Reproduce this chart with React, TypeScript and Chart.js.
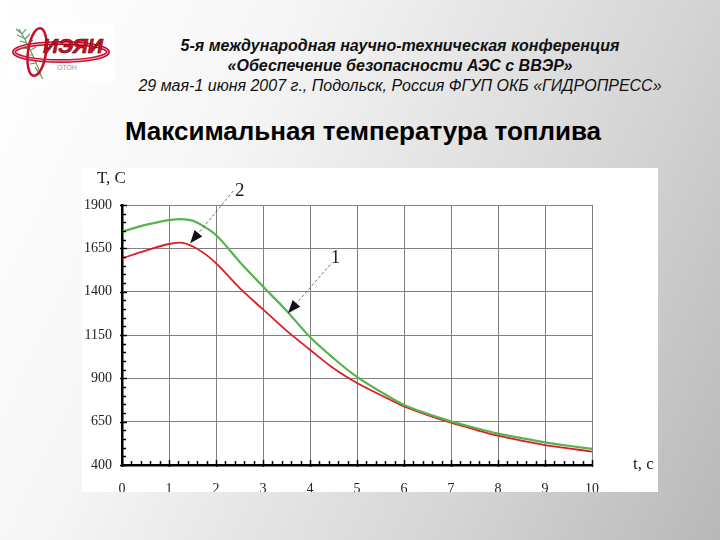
import React, { useEffect, useRef } from "react";
import { Chart, registerables } from "chart.js";

Chart.register(...registerables);

// time, s
const timeS = [0, 0.5, 1, 1.25, 1.5, 1.75, 2, 2.5, 3, 3.5, 4, 4.5, 5, 5.5, 6, 6.5, 7, 7.5, 8, 8.5, 9, 9.5, 10];
// curve 1 (green), T, C
const curve1 = [1746, 1785, 1813, 1819, 1810, 1775, 1727, 1573, 1430, 1290, 1138, 1016, 908, 823, 746, 695, 652, 615, 581, 555, 531, 511, 493];
// curve 2 (red), T, C
const curve2 = [1592, 1637, 1675, 1683, 1662, 1621, 1565, 1422, 1298, 1175, 1065, 958, 873, 804, 738, 688, 644, 605, 569, 540, 515, 496, 477];

const yMin = 400;
const yMax = 1900;
const yStep = 250;
const xMin = 0;
const xMax = 10;
const xStep = 1;

const yTitle = "T, C";
const xTitle = "t, c";

// callouts in data units: label position, leader start, arrow tip
const callouts = [
  { label: "2", lx: 2.505, ly: 1981, fx: 2.37, fy: 1982, tx: 1.45, ty: 1679 },
  { label: "1", lx: 4.54, ly: 1597, fx: 4.43, fy: 1556, tx: 3.53, ty: 1276 },
];

const headerLines = [
  "5-я международная научно-техническая конференция",
  "«Обеспечение безопасности АЭС с ВВЭР»",
  "29 мая-1 июня 2007 г., Подольск, Россия ФГУП ОКБ «ГИДРОПРЕСС»",
];
const slideTitle = "Максимальная температура топлива";
const logoText = "ИЭЯИ";
const logoSub = "ОТОН";

const SERIF = "'Liberation Serif', 'DejaVu Serif', serif";

const decorPlugin = {
  id: "decor",
  afterDraw(chart: any) {
    const { ctx, chartArea, scales } = chart;
    const xs = scales.x;
    const ys = scales.y;
    ctx.save();
    // minor ticks
    ctx.strokeStyle = "#000";
    ctx.lineWidth = 1.5;
    for (let v = xMin; v <= xMax + 1e-9; v += xStep / 5) {
      const px = Math.round(xs.getPixelForValue(v)) + 0.5;
      const major = Math.abs(v - Math.round(v)) < 1e-6;
      ctx.beginPath();
      ctx.moveTo(px, chartArea.bottom + (major ? 2 : 0));
      ctx.lineTo(px, chartArea.bottom - (major ? 5 : 4));
      ctx.stroke();
    }
    for (let v = yMin; v <= yMax + 1e-9; v += yStep / 5) {
      const py = Math.round(ys.getPixelForValue(v)) + 0.5;
      const major = Math.abs((v - yMin) % yStep) < 1e-6;
      ctx.beginPath();
      ctx.moveTo(chartArea.left - (major ? 2 : 0), py);
      ctx.lineTo(chartArea.left + (major ? 5 : 4), py);
      ctx.stroke();
    }
    // axis titles
    ctx.fillStyle = "#222";
    ctx.font = `17px ${SERIF}`;
    ctx.textAlign = "left";
    ctx.textBaseline = "alphabetic";
    ctx.fillText(yTitle, chartArea.left - 25, chartArea.top - 22);
    ctx.fillText(xTitle, chartArea.right + 41, chartArea.bottom + 4);
    // callouts
    for (const c of callouts) {
      const lx = xs.getPixelForValue(c.lx);
      const ly = ys.getPixelForValue(c.ly);
      const fx = xs.getPixelForValue(c.fx);
      const fy = ys.getPixelForValue(c.fy);
      const tx = xs.getPixelForValue(c.tx);
      const ty = ys.getPixelForValue(c.ty);
      ctx.font = `19px ${SERIF}`;
      ctx.textAlign = "center";
      ctx.textBaseline = "middle";
      ctx.fillStyle = "#222";
      ctx.fillText(c.label, lx, ly);
      const ang = Math.atan2(ty - fy, tx - fx);
      const headLen = 13;
      const headW = 5;
      const bx = tx - Math.cos(ang) * headLen;
      const by = ty - Math.sin(ang) * headLen;
      ctx.strokeStyle = "#555";
      ctx.lineWidth = 0.8;
      ctx.setLineDash([3, 2]);
      ctx.beginPath();
      ctx.moveTo(fx, fy);
      ctx.lineTo(bx, by);
      ctx.stroke();
      ctx.setLineDash([]);
      ctx.fillStyle = "#111";
      ctx.beginPath();
      ctx.moveTo(tx, ty);
      ctx.lineTo(bx - Math.sin(ang) * headW, by + Math.cos(ang) * headW);
      ctx.lineTo(bx + Math.sin(ang) * headW, by - Math.cos(ang) * headW);
      ctx.closePath();
      ctx.fill();
    }
    ctx.restore();
  },
};

function Logo() {
  return (
    <svg width={110} height={58} style={{ position: "absolute", left: 5, top: 23 }}>
      <rect x={0} y={0} width={110} height={58} fill="#fff" />
      <g stroke="#5f9a5f" strokeWidth={1.2} fill="none">
        <path d="M14 6 Q26 26 36 52" />
        <path d="M16 10 L11 6 M19 15 L12 12 M22 20 L15 18 M25 26 L18 25 M28 32 L21 32 M31 40 L25 41" />
        <path d="M17 11 L21 6 M20 16 L25 11 M23 21 L28 17 M26 27 L31 24" />
        <path d="M30 44 Q34 50 38 56" />
      </g>
      <ellipse cx={56} cy={29} rx={47} ry={9} fill="none" stroke="#c8102e" strokeWidth={4} />
      <ellipse cx={56} cy={29} rx={47} ry={9} fill="none" stroke="#f4c0c8" strokeWidth={1} />
      <ellipse cx={32} cy={29} rx={9} ry={24} fill="none" stroke="#c8102e" strokeWidth={2.5} transform="rotate(8 32 29)" />
      <text x={38} y={30} fontFamily="'Liberation Sans', Arial, sans-serif" fontWeight="bold" fontStyle="italic" fontSize={21} fill="#d0102a" stroke="#500" strokeWidth={0.6}>
        {logoText}
      </text>
      <text x={52} y={47} fontFamily="'Liberation Sans', sans-serif" fontSize={7} fill="#999">
        {logoSub}
      </text>
    </svg>
  );
}

export default function App() {
  const ref = useRef<HTMLCanvasElement | null>(null);

  useEffect(() => {
    if (!ref.current) return;
    const chart = new Chart(ref.current, {
      type: "line",
      data: {
        datasets: [
          {
            label: "1",
            data: timeS.map((t, i) => ({ x: t, y: curve1[i] })),
            borderColor: "rgb(88,178,78)",
            borderWidth: 2.2,
            pointRadius: 0,
            tension: 0.4,
            cubicInterpolationMode: "monotone",
          },
          {
            label: "2",
            data: timeS.map((t, i) => ({ x: t, y: curve2[i] })),
            borderColor: "rgb(222,28,36)",
            borderWidth: 1.8,
            pointRadius: 0,
            tension: 0.4,
            cubicInterpolationMode: "monotone",
          },
        ],
      },
      options: {
        animation: false,
        responsive: false,
        layout: { padding: { left: 0, right: 66, top: 37, bottom: 0 } },
        plugins: { legend: { display: false }, tooltip: { enabled: false } },
        scales: {
          x: {
            type: "linear",
            min: xMin,
            max: xMax,
            ticks: {
              stepSize: xStep,
              padding: 16,
              maxRotation: 0,
              color: "#222",
              font: { family: SERIF, size: 14 },
              callback: (v: any) => String(v),
            },
            grid: { color: "#808080", lineWidth: 1, drawTicks: false },
            border: { color: "#000", width: 2.5 },
            afterFit: (s: any) => {
              s.height = 27;
            },
          },
          y: {
            min: yMin,
            max: yMax,
            ticks: {
              stepSize: yStep,
              padding: 10,
              color: "#222",
              font: { family: SERIF, size: 14 },
              callback: (v: any) => String(v),
            },
            grid: { color: "#808080", lineWidth: 1, drawTicks: false },
            border: { color: "#000", width: 2.5 },
            afterFit: (s: any) => {
              s.width = 40;
            },
          },
        },
      },
      plugins: [decorPlugin],
    } as any);
    return () => chart.destroy();
  }, []);

  return (
    <div
      style={{
        position: "fixed",
        left: 0,
        top: 0,
        width: 720,
        height: 540,
        overflow: "hidden",
        background: "linear-gradient(115deg, #ffffff 0%, #f6f6f6 30%, #d6d6d6 70%, #b8b8b8 100%)",
      }}
    >
      <Logo />
      <div
        style={{
          position: "absolute",
          left: 100,
          width: 600,
          top: 36,
          textAlign: "center",
          fontFamily: "'Liberation Sans', Arial, sans-serif",
          fontStyle: "italic",
          fontSize: 16,
          lineHeight: "20px",
          color: "#111",
        }}
      >
        <div style={{ fontWeight: "bold" }}>{headerLines[0]}</div>
        <div style={{ fontWeight: "bold" }}>{headerLines[1]}</div>
        <div>{headerLines[2]}</div>
      </div>
      <div
        style={{
          position: "absolute",
          left: 63,
          width: 600,
          top: 115,
          textAlign: "center",
          fontFamily: "'Liberation Sans', Arial, sans-serif",
          fontWeight: "bold",
          fontSize: 26,
          lineHeight: "32px",
          color: "#000",
        }}
      >
        {slideTitle}
      </div>
      <div
        style={{
          position: "absolute",
          left: 82,
          top: 168,
          width: 576,
          height: 324,
          background: "#fff",
          overflow: "hidden",
        }}
      >
        <canvas ref={ref} width={576} height={324} style={{ display: "block" }} />
      </div>
    </div>
  );
}
